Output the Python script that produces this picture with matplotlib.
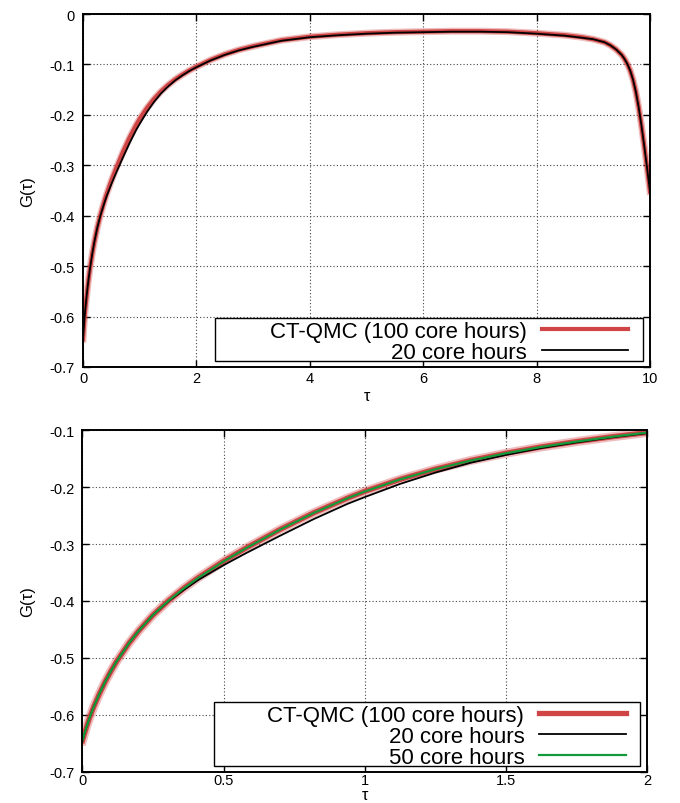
import matplotlib
matplotlib.use("Agg")
import matplotlib.pyplot as plt
from matplotlib.patches import Rectangle

plt.rcParams['font.family'] = ['Liberation Sans', 'DejaVu Sans']
plt.rcParams['axes.unicode_minus'] = False

# --- datos ---
# tramo inicial tau en [0, 2] (comun a los dos paneles)
tau_ini = [0, 0.0075, 0.015, 0.025, 0.04, 0.06, 0.08, 0.1, 0.12, 0.165, 0.2, 0.25,
           0.305, 0.36, 0.41, 0.5, 0.58, 0.7, 0.82, 0.94, 1.0, 1.125, 1.25, 1.375,
           1.5, 1.625, 1.75, 1.875, 2.0]
g_qmc100_ini = [-0.645, -0.632, -0.620, -0.605, -0.5855, -0.5627, -0.5421, -0.5236,
                -0.5067, -0.4738, -0.4519, -0.4245, -0.3992, -0.3772, -0.3591, -0.3301,
                -0.3069, -0.2745, -0.2451, -0.2193, -0.2077, -0.1866, -0.1687, -0.1535,
                -0.1407, -0.1297, -0.1203, -0.1119, -0.1045]
g_20h_ini = [-0.645, -0.632, -0.620, -0.605, -0.5855, -0.5627, -0.5421, -0.5236,
             -0.5067, -0.4738, -0.4519, -0.4245, -0.4002, -0.3802, -0.3631, -0.3371,
             -0.3159, -0.2855, -0.2561, -0.2293, -0.2177, -0.1946, -0.1747, -0.1575,
             -0.1437, -0.1317, -0.1218, -0.1129, -0.1055]
g_50h_ini = [-0.645, -0.632, -0.620, -0.605, -0.5855, -0.5627, -0.5421, -0.5236,
             -0.5067, -0.4738, -0.4519, -0.4245, -0.3994, -0.3775, -0.3594, -0.3305,
             -0.3072, -0.2748, -0.2453, -0.2195, -0.2079, -0.1867, -0.1688, -0.1536,
             -0.1408, -0.1297, -0.1203, -0.1119, -0.1045]

# resto del panel superior, tau en (2, 10]
tau_fin = [2.25, 2.5, 2.75, 3.0, 3.5, 4.0, 4.5, 5.0, 5.5, 6.0, 6.5, 7.0, 7.5, 8.0, 8.5,
           8.8, 9.0, 9.2, 9.3, 9.4, 9.5, 9.55, 9.6, 9.65, 9.7, 9.75, 9.8, 9.85, 9.9,
           9.95, 10.0]
g_qmc100_fin = [-0.091, -0.080, -0.071, -0.064, -0.052, -0.045, -0.041, -0.038, -0.036,
                -0.035, -0.034, -0.034, -0.035, -0.038, -0.042, -0.046, -0.050, -0.056,
                -0.062, -0.070, -0.081, -0.089, -0.099, -0.112, -0.130, -0.154, -0.185,
                -0.222, -0.263, -0.307, -0.352]
g_20h_fin = [-0.092, -0.081, -0.072, -0.065, -0.053, -0.046, -0.042, -0.039, -0.037,
             -0.036, -0.035, -0.035, -0.036, -0.039, -0.043, -0.047, -0.050, -0.056,
             -0.062, -0.070, -0.081, -0.089, -0.099, -0.112, -0.130, -0.154, -0.185,
             -0.222, -0.263, -0.307, -0.352]

xticks_top = [0, 2, 4, 6, 8, 10]
xlabels_top = ["0", "2", "4", "6", "8", "10"]
yticks_top = [0, -0.1, -0.2, -0.3, -0.4, -0.5, -0.6, -0.7]
ylabels_top = ["0", "-0.1", "-0.2", "-0.3", "-0.4", "-0.5", "-0.6", "-0.7"]
xticks_bot = [0, 0.5, 1, 1.5, 2]
xlabels_bot = ["0", "0.5", "1", "1.5", "2"]
yticks_bot = [-0.1, -0.2, -0.3, -0.4, -0.5, -0.6, -0.7]
ylabels_bot = ["-0.1", "-0.2", "-0.3", "-0.4", "-0.5", "-0.6", "-0.7"]

ROJO = '#cf4444'
VERDE = '#14993a'

fig = plt.figure(figsize=(6.8, 8.04), dpi=100)
ax1 = fig.add_axes([0.1221, 0.5423, 0.8338, 0.4390])
ax2 = fig.add_axes([0.1213, 0.0386, 0.8302, 0.4253])


def estilo(ax, xt, xl, yt, yl, xlim, ylim, pad_tick, pad_x):
    ax.set_xlim(*xlim)
    ax.set_ylim(*ylim)
    ax.set_xticks(xt)
    ax.set_xticklabels(xl)
    ax.set_yticks(yt)
    ax.set_yticklabels(yl)
    ax.tick_params(direction='in', length=5, width=1, top=True, right=True,
                   labelsize=10.5)
    ax.tick_params(axis='x', pad=pad_tick)
    ax.tick_params(axis='y', pad=6)
    ax.grid(True, linestyle=(0, (1, 2)), color='#444444', linewidth=0.8)
    ax.set_axisbelow(True)
    for s in ax.spines.values():
        s.set_linewidth(1.4)
    ax.set_xlabel("τ", fontsize=11.5, labelpad=pad_x)
    ax.set_ylabel("G(τ)", fontsize=12, labelpad=10)


def caja_leyenda(ax, x0, y0, x1, y1):
    ax.add_patch(Rectangle((x0, y0), x1 - x0, y1 - y0, transform=ax.transAxes,
                           facecolor='white', edgecolor='black', linewidth=1.0,
                           zorder=3))


def leyenda(ax, x, y):
    leg = ax.legend(loc='lower right', bbox_to_anchor=(x, y), borderaxespad=0,
                    borderpad=0, frameon=False, markerfirst=False, fontsize=16,
                    handlelength=3.9, handletextpad=0.68, labelspacing=0.0)
    leg.set_zorder(4)


# --- panel superior ---
tau_top = tau_ini + tau_fin
ax1.plot(tau_top, g_qmc100_ini + g_qmc100_fin, color=ROJO, lw=5.0, alpha=0.35, zorder=2)
ax1.plot(tau_top, g_qmc100_ini + g_qmc100_fin, color=ROJO, lw=3.0,
         label="CT-QMC (100 core hours)", zorder=2)
ax1.plot(tau_top, g_20h_ini + g_20h_fin, color='black', lw=1.3,
         label="20 core hours", zorder=2.1)
estilo(ax1, xticks_top, xlabels_top, yticks_top, ylabels_top, (0, 10), (-0.7, 0), 3, 2)
caja_leyenda(ax1, 0.233, 0.017, 0.988, 0.139)
leyenda(ax1, 0.962, 0.012)

# --- panel inferior ---
ax2.plot(tau_ini, g_qmc100_ini, color=ROJO, lw=6.5, alpha=0.35, zorder=2)
ax2.plot(tau_ini, g_qmc100_ini, color=ROJO, lw=3.8, label="CT-QMC (100 core hours)", zorder=2)
ax2.plot(tau_ini, g_20h_ini, color='black', lw=1.3, label="20 core hours", zorder=2.1)
ax2.plot(tau_ini, g_50h_ini, color=VERDE, lw=1.6, label="50 core hours", zorder=2.2)
estilo(ax2, xticks_bot, xlabels_bot, yticks_bot, ylabels_bot, (0, 2), (-0.7, -0.1), 1, 0)
caja_leyenda(ax2, 0.233, 0.0175, 0.988, 0.205)
leyenda(ax2, 0.963, 0.012)

fig.savefig("out.png", dpi=100)
